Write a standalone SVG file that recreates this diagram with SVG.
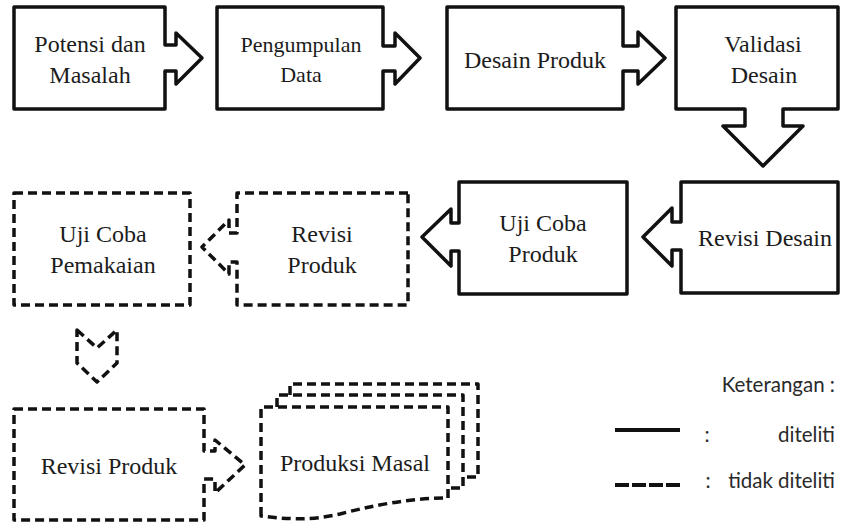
<svg xmlns="http://www.w3.org/2000/svg" width="841" height="522" viewBox="0 0 841 522">
  <style>
    .shape { fill: #ffffff; stroke: #111111; stroke-width: 3.5; stroke-linejoin: round; }
    .dash { stroke-dasharray: 9 5; }
  </style>

  <!-- Row 1: studied steps -->
  <g id="potensi-masalah" font-family="Liberation Serif" font-size="24" fill="#1c1c1c" text-anchor="middle">
    <path class="shape" d="M14,7 H165 V45 H176 V33 L202,58 L176,84 V71 H165 V109 H14 Z"/>
    <text x="90" y="52">Potensi dan</text>
    <text x="90" y="83">Masalah</text>
  </g>
  <g id="pengumpulan-data" font-family="Liberation Serif" font-size="22" fill="#1c1c1c" text-anchor="middle">
    <path class="shape" d="M217,7 H383 V46 H395 V33 L420,58 L395,84 V71 H383 V109 H217 Z"/>
    <text x="301" y="52">Pengumpulan</text>
    <text x="301" y="82">Data</text>
  </g>
  <g id="desain-produk" font-family="Liberation Serif" font-size="24" fill="#1c1c1c" text-anchor="middle">
    <path class="shape" d="M447,7 H623 V46 H638 V32 L665,58 L638,84 V71 H623 V109 H447 Z"/>
    <text x="535" y="68">Desain Produk</text>
  </g>
  <g id="validasi-desain" font-family="Liberation Serif" font-size="24" fill="#1c1c1c" text-anchor="middle">
    <path class="shape" d="M676,7 H838 V109 H783 V126 H803 L763,166 L723,126 H745 V109 H676 Z"/>
    <text x="763" y="52">Validasi</text>
    <text x="764" y="83">Desain</text>
  </g>

  <!-- Row 2 -->
  <g id="revisi-desain" font-family="Liberation Serif" font-size="24" fill="#1c1c1c" text-anchor="middle">
    <path class="shape" d="M838,182 H681 V222 H672 V208 L643,237 L672,266 V250 H681 V293 H838 Z"/>
    <text x="765" y="246">Revisi Desain</text>
  </g>
  <g id="uji-coba-produk" font-family="Liberation Serif" font-size="24" fill="#1c1c1c" text-anchor="middle">
    <path class="shape" d="M627,182 H459 V223 H451 V209 L422,237 L451,266 V251 H459 V294 H627 Z"/>
    <text x="543" y="231">Uji Coba</text>
    <text x="543" y="262">Produk</text>
  </g>
  <g id="revisi-produk-1" font-family="Liberation Serif" font-size="24" fill="#1c1c1c" text-anchor="middle">
    <path class="shape dash" d="M408,193 H237 V233 H229 V220 L202,247 L229,274 V262 H237 V305 H408 Z"/>
    <text x="322" y="242">Revisi</text>
    <text x="322" y="273">Produk</text>
  </g>
  <g id="uji-coba-pemakaian" font-family="Liberation Serif" font-size="24" fill="#1c1c1c" text-anchor="middle">
    <rect class="shape dash" x="14" y="193" width="176" height="112"/>
    <text x="103" y="242">Uji Coba</text>
    <text x="103" y="273">Pemakaian</text>
  </g>

  <!-- Row 3 -->
  <g id="connectors">
    <path class="shape dash" d="M77,330 L97,348 L117,330 V363 L97,382 L77,363 Z"/>
  </g>
  <g id="revisi-produk-2" font-family="Liberation Serif" font-size="24" fill="#1c1c1c" text-anchor="middle">
    <path class="shape dash" d="M14,409 H204 V451 H215 V440 L245,465 L215,493 V479 H204 V520 H14 Z"/>
    <text x="109" y="474">Revisi Produk</text>
  </g>
  <g id="produksi-masal" font-family="Liberation Serif" font-size="24" fill="#1c1c1c" text-anchor="middle">
    <path class="shape dash" d="M290,395 V384 H478 V477 H463" fill="none"/>
    <path class="shape dash" d="M277,407 V395 H463 V488 H448" fill="none"/>
    <path class="shape dash" d="M261,516 V407 H448 V498 C410,498 370,506 340,514 C310,521 285,519 261,516 Z"/>
    <text x="355" y="471">Produksi Masal</text>
  </g>

  <!-- Legend -->
  <g id="legend" font-family="Lato" font-size="20.5" fill="#2a2a2a">
    <text x="835" y="392" text-anchor="end">Keterangan :</text>
    <line x1="615" y1="430" x2="680" y2="430" stroke="#111111" stroke-width="4"/>
    <text x="707" y="442" text-anchor="middle">:</text>
    <text x="835" y="442" text-anchor="end">diteliti</text>
    <line x1="615" y1="485" x2="683" y2="485" stroke="#111111" stroke-width="4" stroke-dasharray="14 3"/>
    <text x="708" y="488" text-anchor="middle">:</text>
    <text x="835" y="488" text-anchor="end">tidak diteliti</text>
  </g>
</svg>
